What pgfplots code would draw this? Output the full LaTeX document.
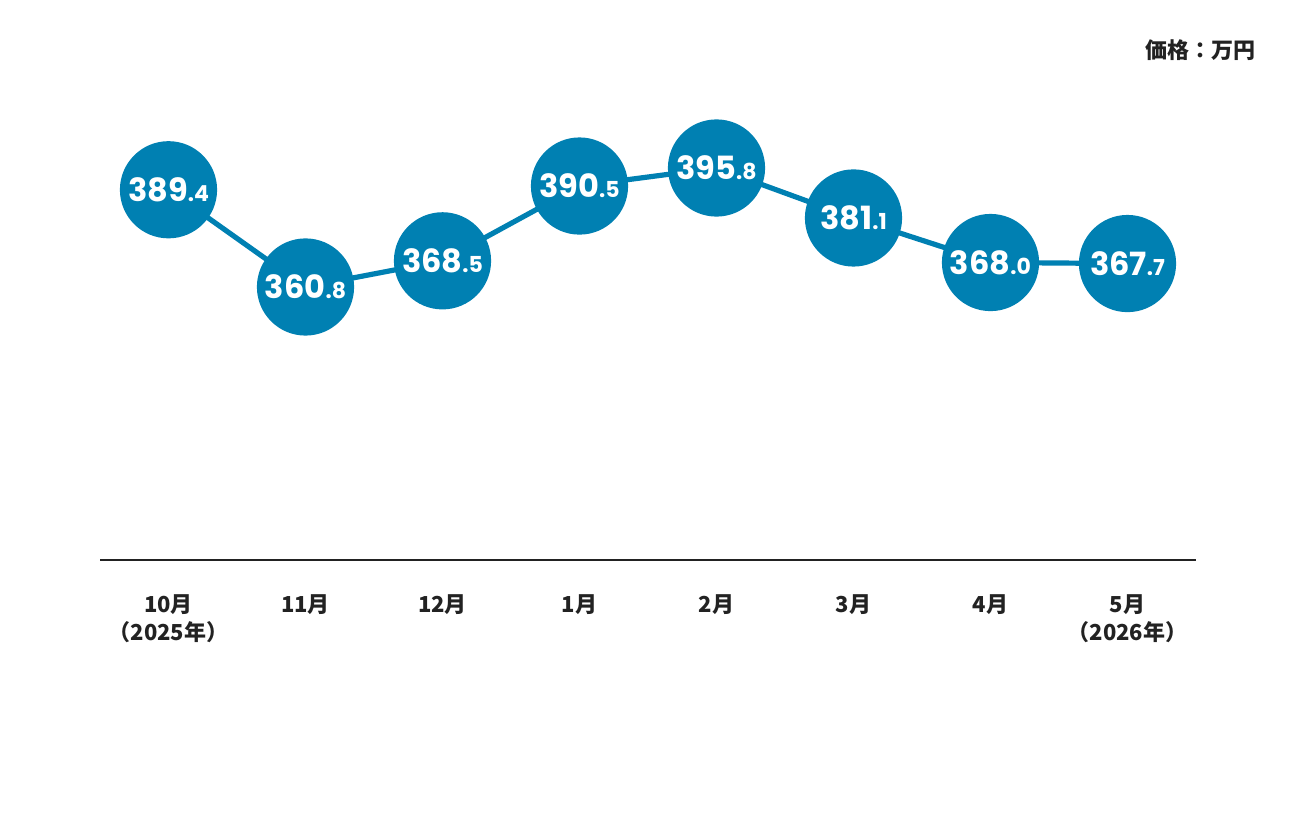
\documentclass[border=0pt]{standalone}
\usepackage{fontspec}
\setmainfont{Noto Sans CJK JP}
\newfontfamily\numfont{Poppins}
\usepackage{pgfplots}
\pgfplotsset{compat=1.18}
\definecolor{dotblue}{RGB}{0,128,178}
\definecolor{txt}{RGB}{34,34,34}
\newcommand\lbl[2]{#1{\fontsize{11}{11}\selectfont.#2}}
\begin{document}
\begin{tikzpicture}
\useasboundingbox (0,0) rectangle (648pt,408pt);
\begin{axis}[
  at={(50pt,128pt)}, anchor=south west,
  scale only axis, width=548pt, height=230pt,
  xmin=-0.5, xmax=7.5, ymin=280.5, ymax=415.8,
  axis x line*=bottom, axis y line=none,
  x axis line style={-, line width=1pt, color=txt},
  ytick=\empty,
  xtick={0,...,7}, major tick length=0pt,
  xticklabels={{10月\\（2025年）},{11月},{12月},{1月},{2月},{3月},{4月},{5月\\（2026年）}},
  xticklabel style={align=center, font=\fontsize{11}{14}\selectfont\bfseries, text=txt, anchor=north, yshift=-14pt},
  clip=false,
  point meta=explicit symbolic,
  nodes near coords,
  every node near coord/.append style={anchor=center, text=white, font=\numfont\bfseries\fontsize{16}{16}\selectfont, inner sep=0pt},
]
\addplot[color=dotblue, line width=2.6pt, mark=*, mark size=23pt, mark options={fill=dotblue, draw=none}] coordinates {
(0,389.4) [\lbl{389}{4}]
(1,360.8) [\lbl{360}{8}]
(2,368.5) [\lbl{368}{5}]
(3,390.5) [\lbl{390}{5}]
(4,395.8) [\lbl{395}{8}]
(5,381.1) [\lbl{381}{1}]
(6,368.0) [\lbl{368}{0}]
(7,367.7) [\lbl{367}{7}]
};
\node[anchor=east, font=\fontsize{11}{13}\selectfont\bfseries, text=txt] at (rel axis cs:1.061,1.1087) {価格：万円};
\end{axis}
\end{tikzpicture}
\end{document}
